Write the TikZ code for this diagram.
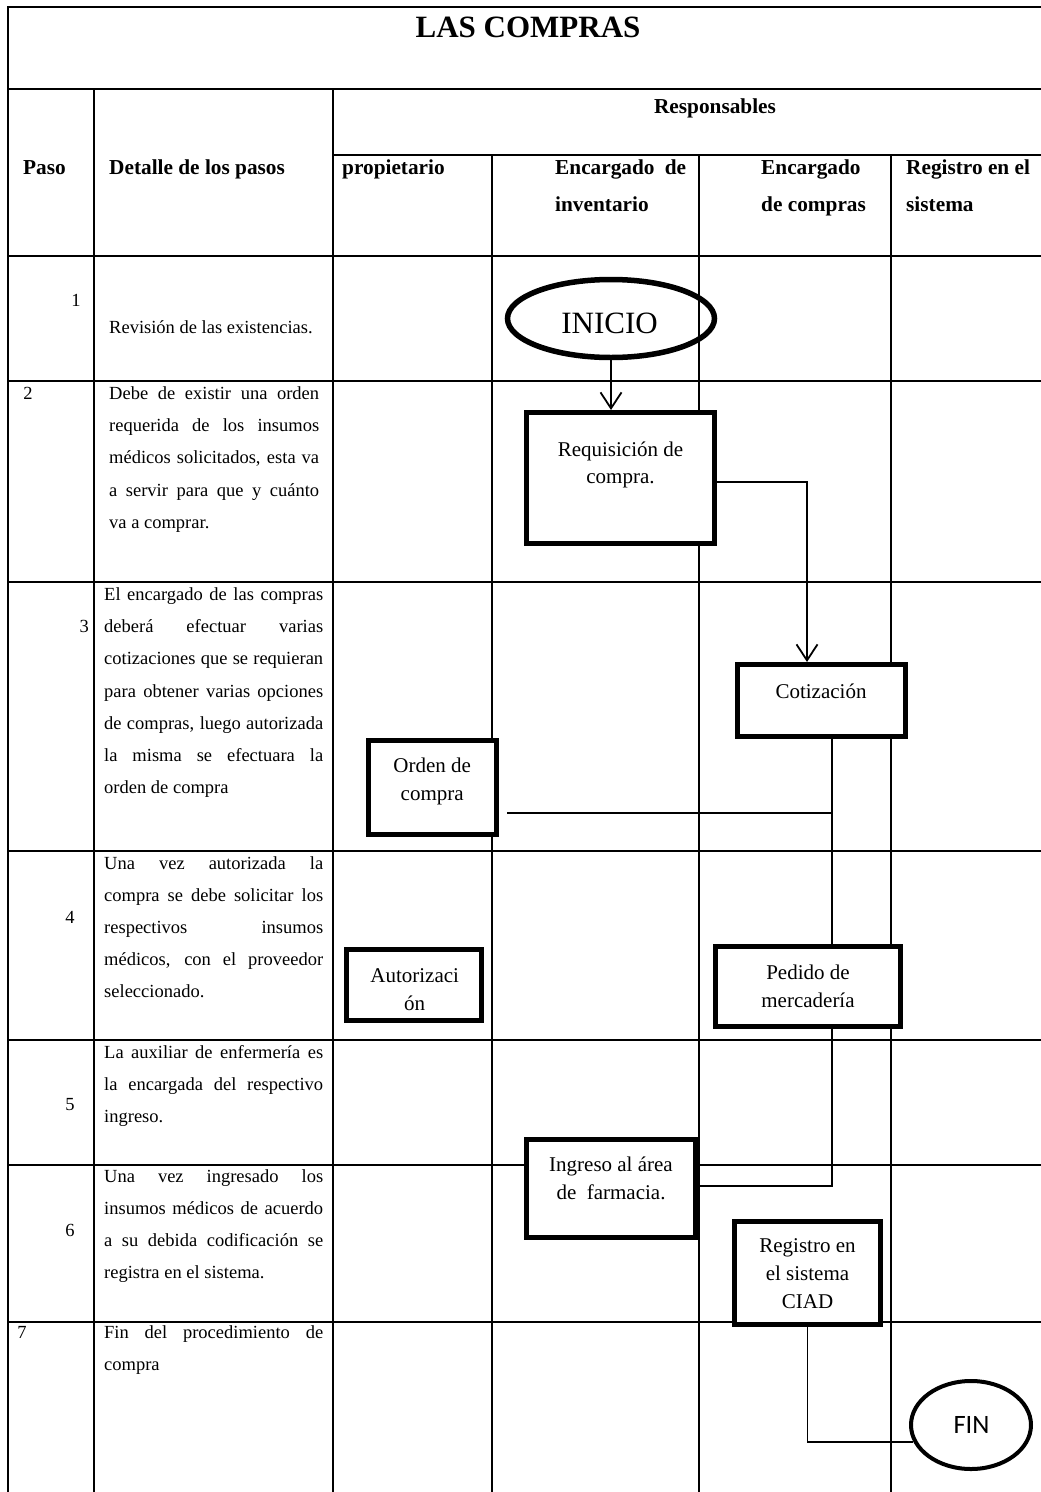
\documentclass[tikz,border=0pt]{standalone}
\usepackage{fontspec}
\setmainfont{Liberation Serif}
\newfontfamily\calibfont{Carlito}
\usetikzlibrary{arrows.meta,shapes.geometric}
\newcommand{\jl}[2]{\makebox[#1][s]{#2}}
\newcommand{\bodypar}[2]{\parbox[t]{#1}{\fontsize{18.5}{32.2}\selectfont #2}}
\newcommand{\boxpar}[1]{\parbox[t]{220pt}{\centering\fontsize{21}{27.8}\selectfont #1}}
\newcommand{\headpar}[2]{\parbox[t]{#1}{\fontsize{21.3}{37}\selectfont\bfseries #2}}
\begin{document}
\begin{tikzpicture}[x=1pt,y=-1pt,
  gridline/.style={line width=2pt},
  stepbox/.style={draw, line width=5pt, fill=white, rectangle, inner sep=0pt},
  term/.style={draw, ellipse, inner sep=0pt},
  lbl/.style={inner sep=0pt, anchor=base},
  conn/.style={line width=1.8pt},
  arr/.style={conn, -{Straight Barb[length=16pt,width=21pt]}},
  body/.style={inner sep=0pt, anchor=base west, font=\fontsize{18.5}{32.2}\selectfont},
  head/.style={inner sep=0pt, anchor=base west, font=\fontsize{21.3}{37}\selectfont\bfseries},
  num/.style={inner sep=0pt, anchor=base, font=\fontsize{18.5}{22}\selectfont},
  boxtxt/.style={inner sep=0pt, anchor=base, font=\fontsize{21}{27.8}\selectfont},
]
\useasboundingbox (0,0) rectangle (1041,1492);
% table grid
\draw[gridline] (7,7) -- (1041,7);
\draw[gridline] (8,89) -- (1041,89);
\draw[gridline] (333,155) -- (1041,155);
\foreach \yy in {256,381,582,851,1040,1165,1322} \draw[gridline] (8,\yy) -- (1041,\yy);
\draw[gridline] (8,6) -- (8,1492);
\draw[gridline] (94,89) -- (94,1492);
\draw[gridline] (333,89) -- (333,1492);
\foreach \xx in {492,699,891} \draw[gridline] (\xx,155) -- (\xx,1492);

% headers
\node[lbl, font=\fontsize{31}{36}\selectfont\bfseries] (title) at (528,37) {LAS COMPRAS};
\node[lbl, font=\fontsize{21.3}{25}\selectfont\bfseries] (resp) at (715,113.5) {Responsables};
\node[head] (hpaso) at (23,174) {Paso};
\node[head] (hdet) at (109,174) {Detalle de los pasos};
\node[head] (hprop) at (342,174) {propietario};
\node[head] (hinv) at (555,174) {\headpar{131pt}{\jl{131pt}{Encargado de}\\inventario}};
\node[head] (hcomp) at (761,174) {\headpar{120pt}{Encargado\\de compras}};
\node[head] (hreg) at (906,174) {\headpar{134pt}{Registro en el\\sistema}};

% step numbers
\node[num] (n1) at (76,306.5) {1};
\node[num] (n2) at (28,399.5) {2};
\node[num, anchor=base east] (n3) at (89,632.7) {3};
\node[num] (n4) at (70,923) {4};
\node[num] (n5) at (70,1110.7) {5};
\node[num] (n6) at (70,1236.7) {6};
\node[num] (n7) at (22,1338) {7};

% step details
\node[body] (d1) at (109,333) {Revisión de las existencias.};
\node[body] (d2) at (109,399.5) {\bodypar{210pt}{%
\jl{210pt}{Debe de existir una orden}\\
\jl{210pt}{requerida de los insumos}\\
\jl{210pt}{médicos solicitados, esta va}\\
\jl{210pt}{a servir para que y cuánto}\\
va a comprar.}};
\node[body] (d3) at (104,600.5) {\bodypar{219pt}{%
\jl{219pt}{El encargado de las compras}\\
\jl{219pt}{deberá efectuar varias}\\
\jl{219pt}{cotizaciones que se requieran}\\
\jl{219pt}{para obtener varias opciones}\\
\jl{219pt}{de compras, luego autorizada}\\
\jl{219pt}{la misma se efectuara la}\\
orden de compra}};
\node[body] (d4) at (104,869) {\bodypar{219pt}{%
\jl{219pt}{Una vez autorizada la}\\
\jl{219pt}{compra se debe solicitar los}\\
\jl{219pt}{respectivos insumos}\\
\jl{219pt}{médicos, con el proveedor}\\
seleccionado.}};
\node[body] (d5) at (104,1058) {\bodypar{219pt}{%
\jl{219pt}{La auxiliar de enfermería es}\\
\jl{219pt}{la encargada del respectivo}\\
ingreso.}};
\node[body] (d6) at (104,1182) {\bodypar{219pt}{%
\jl{219pt}{Una vez ingresado los}\\
\jl{219pt}{insumos médicos de acuerdo}\\
\jl{219pt}{a su debida codificación se}\\
registra en el sistema.}};
\node[body] (d7) at (104,1338) {\bodypar{219pt}{%
\jl{219pt}{Fin del procedimiento de}\\
compra}};

% flow shapes
\node[term, line width=5.5pt, minimum width=207pt, minimum height=78pt] (inicio) at (611,318.5) {};
\node[lbl, font=\fontsize{31}{36}\selectfont] (inicioT) at (609.5,333) {INICIO};
\node[stepbox, minimum width=188pt, minimum height=131pt] (req) at (620.5,478) {};
\node[boxtxt] (reqT) at (620.5,456) {\boxpar{Requisición de\\compra.}};
\node[stepbox, minimum width=168pt, minimum height=72pt] (cot) at (821.5,700.5) {};
\node[boxtxt] (cotT) at (821,698.3) {\boxpar{Cotización}};
\node[stepbox, minimum width=128pt, minimum height=94pt] (orden) at (432.5,787.5) {};
\node[boxtxt] (ordenT) at (432.2,772.7) {\boxpar{Orden de\\compra}};
\node[stepbox, minimum width=135pt, minimum height=71pt] (aut) at (414,985) {};
\node[boxtxt] (autT) at (414.7,982.3) {\boxpar{Autorizaci\\ón}};
\node[stepbox, minimum width=185pt, minimum height=80pt] (ped) at (808,986.5) {};
\node[boxtxt] (pedT) at (808,979.3) {\boxpar{Pedido de\\mercadería}};
\node[stepbox, minimum width=169.6pt, minimum height=97.7pt] (ing) at (611,1188.7) {};
\node[boxtxt] (ingT) at (611,1171.7) {\boxpar{Ingreso al área\\de\ \ farmacia.}};
\node[stepbox, minimum width=146.7pt, minimum height=102.7pt] (reg) at (807.4,1272.8) {};
\node[boxtxt] (regT) at (807.5,1252.7) {\boxpar{Registro en\\el sistema\\CIAD}};
\node[term, line width=4pt, minimum width=120pt, minimum height=88pt] (fin) at (971,1425) {};
\node[lbl, font=\calibfont\fontsize{26.5}{30}\selectfont] (finT) at (971.5,1433.3) {FIN};

% connectors
\draw[arr] (inicio.south) -- (inicio.south |- req.north);
\draw[arr] ([yshift=-4pt]req.east) -| ([xshift=-14.5pt]cot.north);
\coordinate (cotout) at ([xshift=10.5pt]cot.south);
\draw[conn] (cotout) -- (cotout |- ped.north);
\coordinate (ordout) at ([xshift=8pt,yshift=-25.5pt]orden.east);
\draw[conn] (ordout) -- (cotout |- ordout);
\coordinate (pedout) at ([xshift=24pt]ped.south);
\draw[conn] (pedout) |- ([yshift=2.5pt]ing.east);
\draw[conn] (reg.south) |- (fin.196);
\end{tikzpicture}
\end{document}
